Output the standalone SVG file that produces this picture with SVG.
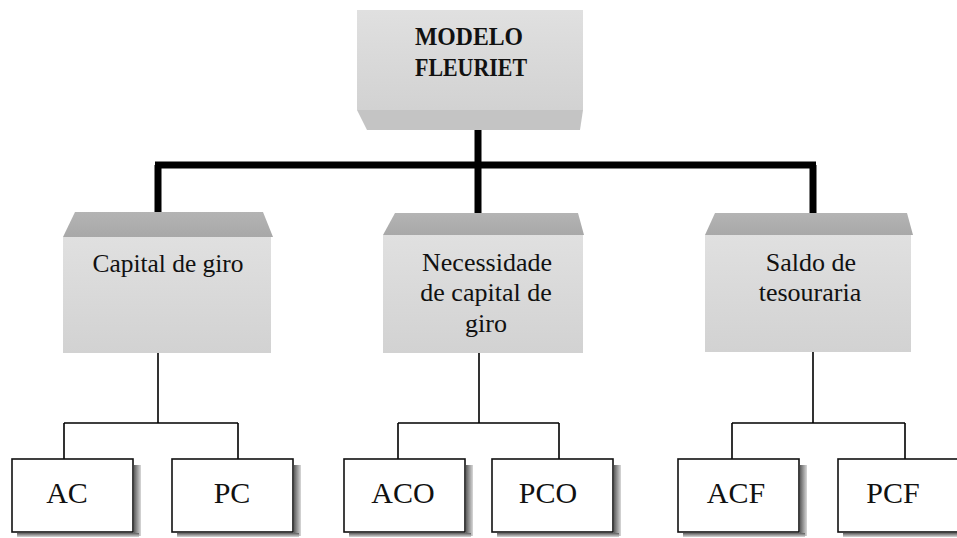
<svg xmlns="http://www.w3.org/2000/svg" width="957" height="538" viewBox="0 0 957 538">
<defs>
<linearGradient id="gFace" x1="0" y1="0" x2="0" y2="1">
<stop offset="0" stop-color="#e0e0e0"/>
<stop offset="1" stop-color="#d2d2d2"/>
</linearGradient>
<linearGradient id="gBevel" x1="0" y1="0" x2="0" y2="1">
<stop offset="0" stop-color="#b4b4b4"/>
<stop offset="1" stop-color="#a8a8a8"/>
</linearGradient>
<linearGradient id="gShadowR" x1="0" y1="0" x2="1" y2="0">
<stop offset="0" stop-color="#5e5e5e"/>
<stop offset="1" stop-color="#d8d8d8"/>
</linearGradient>
<linearGradient id="gShadowB" x1="0" y1="0" x2="0" y2="1">
<stop offset="0" stop-color="#5e5e5e"/>
<stop offset="1" stop-color="#d8d8d8"/>
</linearGradient>
</defs>
<style>
.face{fill:url(#gFace);}
.bevel{fill:url(#gBevel);}
.under{fill:#c4c4c4;}
.leaf{fill:#ffffff;stroke:#111;stroke-width:1.6;}
.shr{fill:url(#gShadowR);}
.shb{fill:url(#gShadowB);}
.thick{stroke:#000;stroke-width:7;fill:none;stroke-linecap:butt;}
.thin{stroke:#000;stroke-width:1.6;fill:none;}
.t{font-family:"Liberation Serif","Times New Roman",serif;fill:#111;text-anchor:middle;}
.mid{font-size:26px;}
.leaft{font-size:30px;}
.top{font-size:26px;font-weight:bold;}
</style>
<rect width="957" height="538" fill="#ffffff"/>

<g id="connectors">
<path class="thick" d="M478,112 V165 M155,165 H816 M158,165 V225 M478,165 V225 M813,165 V225"/>
<path class="thin" d="M158,353 V423 M64,423 H238 M64,423 V459 M238,423 V459"/>
<path class="thin" d="M479,353 V423 M398,423 H559 M398,423 V459 M559,423 V459"/>
<path class="thin" d="M813,352 V423 M732,423 H905 M732,423 V459 M905,423 V459"/>
</g>

<g id="modelo">
<rect class="face" x="357" y="10" width="226" height="100"/>
<polygon class="under" points="357,110 583,110 580,130 367,130"/>
<text class="t top" x="469" y="45" textLength="108" lengthAdjust="spacingAndGlyphs">MODELO</text>
<text class="t top" x="471" y="76" textLength="112" lengthAdjust="spacingAndGlyphs">FLEURIET</text>
</g>

<g id="capital">
<polygon class="bevel" points="75,212 263,212 273,237 63,237"/>
<rect class="face" x="63" y="237" width="208" height="116"/>
<text class="t mid" x="168" y="272" textLength="151" lengthAdjust="spacingAndGlyphs">Capital de giro</text>
</g>

<g id="necessidade">
<polygon class="bevel" points="395,213 578,213 584,235 383,235"/>
<rect class="face" x="383" y="235" width="200" height="118"/>
<text class="t mid" x="487" y="271">Necessidade</text>
<text class="t mid" x="486" y="301">de capital de</text>
<text class="t mid" x="486" y="332">giro</text>
</g>

<g id="saldo">
<polygon class="bevel" points="715,213 907,213 913,235 705,235"/>
<rect class="face" x="705" y="235" width="206" height="117"/>
<text class="t mid" x="811" y="271">Saldo de</text>
<text class="t mid" x="810" y="301">tesouraria</text>
</g>

<g id="ac">
<rect class="shr" x="134" y="465" width="7" height="71"/>
<rect class="shb" x="17" y="533" width="122" height="4"/>
<rect class="leaf" x="12" y="459" width="121" height="73"/>
<text class="t leaft" x="67" y="503">AC</text>
</g>

<g id="pc">
<rect class="shr" x="294" y="465" width="7" height="71"/>
<rect class="shb" x="177" y="533" width="122" height="4"/>
<rect class="leaf" x="172" y="459" width="121" height="73"/>
<text class="t leaft" x="232" y="503">PC</text>
</g>

<g id="aco">
<rect class="shr" x="466" y="465" width="7" height="71"/>
<rect class="shb" x="349" y="533" width="122" height="4"/>
<rect class="leaf" x="344" y="459" width="121" height="73"/>
<text class="t leaft" x="403" y="503">ACO</text>
</g>

<g id="pco">
<rect class="shr" x="614" y="465" width="7" height="71"/>
<rect class="shb" x="497" y="533" width="122" height="4"/>
<rect class="leaf" x="492" y="459" width="121" height="73"/>
<text class="t leaft" x="548" y="503">PCO</text>
</g>

<g id="acf">
<rect class="shr" x="800" y="465" width="7" height="71"/>
<rect class="shb" x="683" y="533" width="122" height="4"/>
<rect class="leaf" x="678" y="459" width="121" height="73"/>
<text class="t leaft" x="736" y="503">ACF</text>
</g>

<g id="pcf">
<rect class="shb" x="843" y="533" width="114" height="4"/>
<rect class="leaf" x="838" y="459" width="125" height="73"/>
<text class="t leaft" x="893" y="503">PCF</text>
</g>
</svg>
